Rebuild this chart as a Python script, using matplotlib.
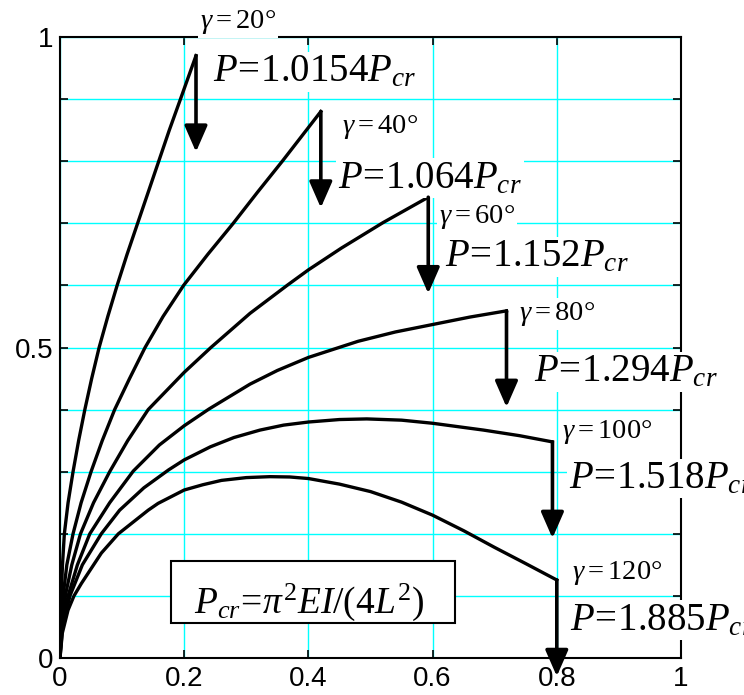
import matplotlib
matplotlib.use('Agg')
import matplotlib.pyplot as plt
from matplotlib.ticker import MultipleLocator
from matplotlib.patches import Rectangle

plt.rcParams['font.family'] = ['Liberation Sans', 'DejaVu Sans']
plt.rcParams['mathtext.fontset'] = 'custom'
plt.rcParams['mathtext.rm'] = 'Liberation Serif'
plt.rcParams['mathtext.it'] = 'Liberation Serif:italic'

# load angle and tip load for each curve
gammas = [20, 40, 60, 80, 100, 120]
loads = ['1.0154', '1.064', '1.152', '1.294', '1.518', '1.885']

# deflected shapes
x20 = [0, 0.0004, 0.002, 0.004, 0.007, 0.013, 0.021, 0.030, 0.040, 0.051, 0.063, 0.077,
       0.092, 0.108, 0.125, 0.142, 0.159, 0.176, 0.194, 0.219]
y20 = [0, 0.05, 0.1, 0.15, 0.2, 0.25, 0.3, 0.35, 0.4, 0.45, 0.5, 0.55,
       0.6, 0.65, 0.7, 0.75, 0.8, 0.85, 0.9, 0.970]

x40 = [0, 0.001, 0.005, 0.011, 0.021, 0.034, 0.050, 0.068, 0.088, 0.112, 0.137, 0.166,
       0.199, 0.238, 0.279, 0.318, 0.358, 0.420]
y40 = [0, 0.05, 0.1, 0.15, 0.2, 0.25, 0.3, 0.35, 0.4, 0.45, 0.5, 0.55,
       0.6, 0.65, 0.7, 0.75, 0.8, 0.880]

x60 = [0, 0.002, 0.0085, 0.019, 0.033, 0.054, 0.080, 0.109, 0.142, 0.200, 0.243, 0.306,
       0.367, 0.400, 0.453, 0.520, 0.593]
y60 = [0, 0.05, 0.1, 0.15, 0.2, 0.25, 0.3, 0.35, 0.4, 0.46, 0.5, 0.555,
       0.601, 0.625, 0.660, 0.701, 0.742]

x80 = [0, 0.0025, 0.013, 0.028, 0.048, 0.080, 0.118, 0.160, 0.200, 0.240, 0.306, 0.350,
       0.400, 0.480, 0.540, 0.600, 0.660, 0.719]
y80 = [0, 0.05, 0.1, 0.15, 0.2, 0.25, 0.301, 0.343, 0.374, 0.401, 0.441, 0.463,
       0.484, 0.510, 0.525, 0.537, 0.549, 0.559]

x100 = [0, 0.004, 0.016, 0.036, 0.0665, 0.096, 0.135, 0.175, 0.200, 0.242, 0.280, 0.322,
        0.360, 0.400, 0.450, 0.494, 0.550, 0.600, 0.682, 0.740, 0.793]
y100 = [0, 0.05, 0.1, 0.15, 0.2, 0.238, 0.274, 0.303, 0.319, 0.340, 0.355, 0.367,
        0.375, 0.380, 0.384, 0.385, 0.383, 0.378, 0.367, 0.358, 0.348]

x120 = [0, 0.0037, 0.0129, 0.0225, 0.0344, 0.0666, 0.094, 0.142, 0.158, 0.200, 0.230, 0.260,
        0.300, 0.338, 0.370, 0.400, 0.450, 0.500, 0.550, 0.600, 0.650, 0.700, 0.750, 0.800]
y120 = [0, 0.04, 0.077, 0.100, 0.120, 0.169, 0.200, 0.238, 0.249, 0.2705, 0.279, 0.286,
        0.2905, 0.292, 0.2915, 0.289, 0.280, 0.268, 0.251, 0.230, 0.205, 0.178, 0.152, 0.1256]

curves = [(x20, y20), (x40, y40), (x60, y60), (x80, y80), (x100, y100), (x120, y120)]

# label anchors (left/baseline) for the gamma and P texts
gamma_pos = [(0.225, 1.0145), (0.4536, 0.845), (0.61, 0.70), (0.7386, 0.544), (0.808, 0.354), (0.824, 0.128)]
load_pos = [(0.247, 0.928), (0.448, 0.757), (0.62, 0.63), (0.763, 0.445), (0.819, 0.273), (0.822, 0.045)]
arrow_len = 0.155

fig = plt.figure(figsize=(7.44, 6.95), dpi=100)
ax = fig.add_axes([60 / 744, 37 / 695, 621 / 744, 621 / 695])

ax.set_xlim(0, 1)
ax.set_ylim(0, 1)
ax.set_xticks([0, 0.2, 0.4, 0.6, 0.8, 1])
ax.set_xticklabels(['0', '0.2', '0.4', '0.6', '0.8', '1'])
ax.set_yticks([0, 0.5, 1])
ax.set_yticklabels(['0', '0.5', '1'])
ax.yaxis.set_minor_locator(MultipleLocator(0.1))
ax.tick_params(which='both', direction='in', length=6, width=1.2, top=True, right=True)
ax.tick_params(axis='x', labelsize=20, pad=6)
ax.tick_params(axis='y', labelsize=20, pad=5)
ax.grid(axis='x', which='major', color='cyan', lw=1.0)
ax.grid(axis='y', which='both', color='cyan', lw=1.0)
ax.set_axisbelow(True)
for s in ax.spines.values():
    s.set_linewidth(1.5)

for (xs, ys), g, ld, gp, lp in zip(curves, gammas, loads, gamma_pos, load_pos):
    ax.plot(xs, ys, color='k', lw=2.4, zorder=3, solid_joinstyle='round')
    xt, yt = xs[-1], ys[-1]
    ax.annotate('', xy=(xt, yt - arrow_len), xytext=(xt, yt),
                arrowprops=dict(arrowstyle='-|>,head_length=0.8,head_width=0.35',
                                color='k', lw=2.6, shrinkA=0, shrinkB=0,
                                mutation_scale=20),
                annotation_clip=False, zorder=5)
    ax.text(gp[0], gp[1], r'$\gamma{=}%d\degree$' % g, fontsize=20.5, va='baseline',
            bbox=dict(fc='white', ec='none', pad=1.5), zorder=4, clip_on=False)
    ax.text(lp[0], lp[1], r'$P\!=\!%sP_{cr}$' % ld, fontsize=28, va='baseline',
            bbox=dict(fc='white', ec='none', pad=1.5), zorder=4, clip_on=False)

ax.add_patch(Rectangle((0.178, 0.057), 0.458, 0.099, fc='white', ec='k', lw=1.5, zorder=4))
ax.text(0.402, 0.0725, r'$P_{cr}\!=\!\pi^2EI/(4L^2)$', fontsize=27, ha='center',
        va='baseline', zorder=5)

fig.savefig('out.png', dpi=100)
